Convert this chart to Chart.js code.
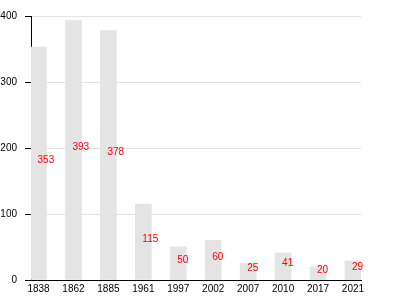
<!DOCTYPE html>
<html lang="en">
<head>
    <meta charset="utf-8">
    <title>Chart</title>
    <script src="https://cdn.jsdelivr.net/npm/chart.js"></script>
    <style>
        body { margin: 0; background: #fff; }
    </style>
</head>
<body>
    <canvas id="chart" width="400" height="300"></canvas>
    <script>
        // Datos
        const years = ['1838', '1862', '1885', '1961', '1997', '2002', '2007', '2010', '2017', '2021'];
        const population = [353, 393, 378, 115, 50, 60, 25, 41, 20, 29];
        const yTicks = [0, 100, 200, 300, 400];

        const FONT = '"Liberation Sans", Arial, sans-serif';

        // etiquetas rojas dentro de cada barra
        const valueLabels = {
            id: 'valueLabels',
            afterDatasetsDraw(chart) {
                const ctx = chart.ctx;
                const meta = chart.getDatasetMeta(0);
                ctx.save();
                ctx.font = '10px ' + FONT;
                ctx.fillStyle = '#ff0000';
                ctx.textAlign = 'left';
                ctx.textBaseline = 'middle';
                meta.data.forEach((bar, i) => {
                    const y = (bar.y + bar.base) / 2 - 3;
                    ctx.fillText(String(population[i]), bar.x - 1, y);
                });
                ctx.restore();
            }
        };

        new Chart(document.getElementById('chart'), {
            type: 'bar',
            data: {
                datasets: [{
                    data: population.map((v, i) => ({ x: i, y: v })),
                    backgroundColor: '#e4e4e4',
                    borderWidth: 0,
                    barThickness: 16
                }]
            },
            options: {
                responsive: false,
                animation: false,
                layout: { padding: { top: 16, right: 39, bottom: 0, left: 0 } },
                plugins: {
                    legend: { display: false },
                    tooltip: { enabled: false }
                },
                scales: {
                    x: {
                        type: 'linear',
                        offset: false,
                        min: -0.215,
                        max: 9.23,
                        grid: { display: false, drawTicks: false },
                        border: { display: true, color: '#000', width: 1 },
                        ticks: {
                            stepSize: 1,
                            includeBounds: false,
                            autoSkip: false,
                            maxRotation: 0,
                            padding: 3,
                            color: '#000',
                            font: { family: FONT, size: 10 },
                            callback: v => Number.isInteger(v) ? years[v] : ''
                        },
                        afterFit: s => { s.height = 20; }
                    },
                    y: {
                        min: yTicks[0],
                        max: yTicks[yTicks.length - 1],
                        grid: { color: '#e2e2e2', tickColor: '#000', tickLength: 6 },
                        border: { display: true, color: '#000', width: 1 },
                        ticks: {
                            stepSize: 100,
                            padding: 8,
                            color: '#000',
                            font: { family: FONT, size: 10 }
                        },
                        afterFit: s => { s.width = 31; }
                    }
                }
            },
            plugins: [valueLabels]
        });
    </script>
</body>
</html>
